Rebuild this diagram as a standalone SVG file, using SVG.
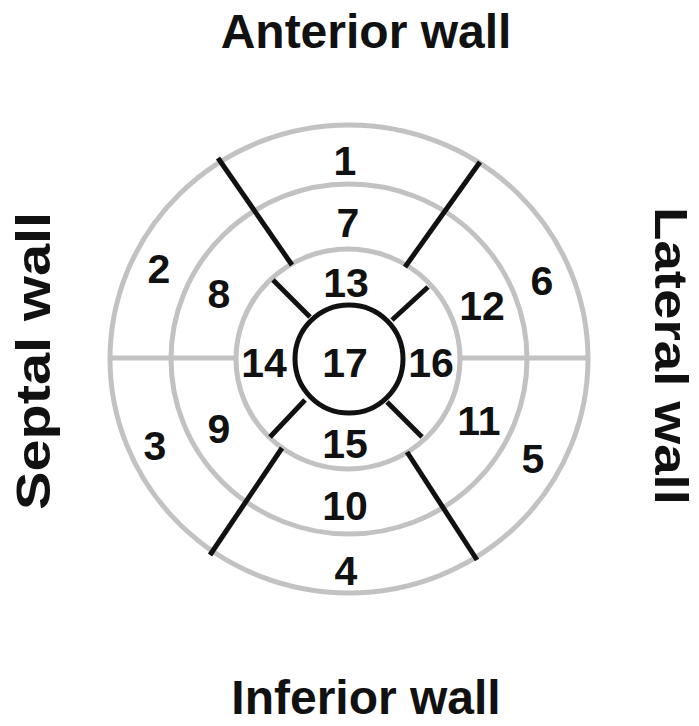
<svg xmlns="http://www.w3.org/2000/svg" width="699" height="726" viewBox="0 0 699 726">
<style>
.ring{fill:none;stroke:#c2c2c2;stroke-width:5}
.div{stroke:#111;stroke-width:5;stroke-linecap:butt;fill:none}
.seg{font-family:"Liberation Sans",Arial,sans-serif;font-weight:bold;font-size:41px;fill:#111;text-anchor:middle}
.wall{font-family:"Liberation Sans",Arial,sans-serif;font-weight:bold;font-size:48px;fill:#111;text-anchor:middle}
</style>
<rect width="699" height="726" fill="#fff"/>
<g id="rings">
<ellipse class="ring" cx="349" cy="359" rx="239" ry="234"/>
<ellipse class="ring" cx="349" cy="359" rx="178" ry="175"/>
<ellipse class="ring" cx="348" cy="359" rx="112" ry="110"/>
<line class="ring" x1="110" y1="358" x2="236" y2="358"/>
<line class="ring" x1="460" y1="358" x2="588" y2="358"/>
</g>
<g id="connectors">
<line class="div" x1="218" y1="158" x2="292" y2="265"/>
<line class="div" x1="480" y1="162" x2="405" y2="267"/>
<line class="div" x1="282" y1="448" x2="210" y2="555"/>
<line class="div" x1="407" y1="452" x2="477" y2="560"/>
<line class="div" x1="273" y1="280" x2="310" y2="317"/>
<line class="div" x1="428" y1="287" x2="392" y2="320"/>
<line class="div" x1="305" y1="400" x2="270" y2="437"/>
<line class="div" x1="387" y1="402" x2="422" y2="437"/>
</g>
<g id="apex"><circle cx="349" cy="359" r="54" fill="none" stroke="#111" stroke-width="5"/><text class="seg" x="345" y="377">17</text></g>
<g id="seg1"><text class="seg" x="345" y="175">1</text></g>
<g id="seg2"><text class="seg" x="159" y="283">2</text></g>
<g id="seg3"><text class="seg" x="155" y="460">3</text></g>
<g id="seg4"><text class="seg" x="346" y="585">4</text></g>
<g id="seg5"><text class="seg" x="533" y="473">5</text></g>
<g id="seg6"><text class="seg" x="542" y="295">6</text></g>
<g id="seg7"><text class="seg" x="348" y="237">7</text></g>
<g id="seg8"><text class="seg" x="219" y="308">8</text></g>
<g id="seg9"><text class="seg" x="219" y="443">9</text></g>
<g id="seg10"><text class="seg" x="345" y="520">10</text></g>
<g id="seg11"><text class="seg" x="479" y="435">11</text></g>
<g id="seg12"><text class="seg" x="482" y="320">12</text></g>
<g id="seg13"><text class="seg" x="346" y="297">13</text></g>
<g id="seg14"><text class="seg" x="264" y="377">14</text></g>
<g id="seg15"><text class="seg" x="345" y="458">15</text></g>
<g id="seg16"><text class="seg" x="431" y="377">16</text></g>
<g id="anterior"><text class="wall" x="366" y="48">Anterior wall</text></g>
<g id="inferior"><text class="wall" x="366" y="714">Inferior wall</text></g>
<g id="septal"><text class="wall" transform="translate(50,361) rotate(-90)" x="0" y="0" textLength="298" lengthAdjust="spacingAndGlyphs">Septal wall</text></g>
<g id="lateral"><text class="wall" style="font-size:47px" transform="translate(655,356) rotate(90)" x="0" y="0" textLength="298" lengthAdjust="spacingAndGlyphs">Lateral wall</text></g>
</svg>
